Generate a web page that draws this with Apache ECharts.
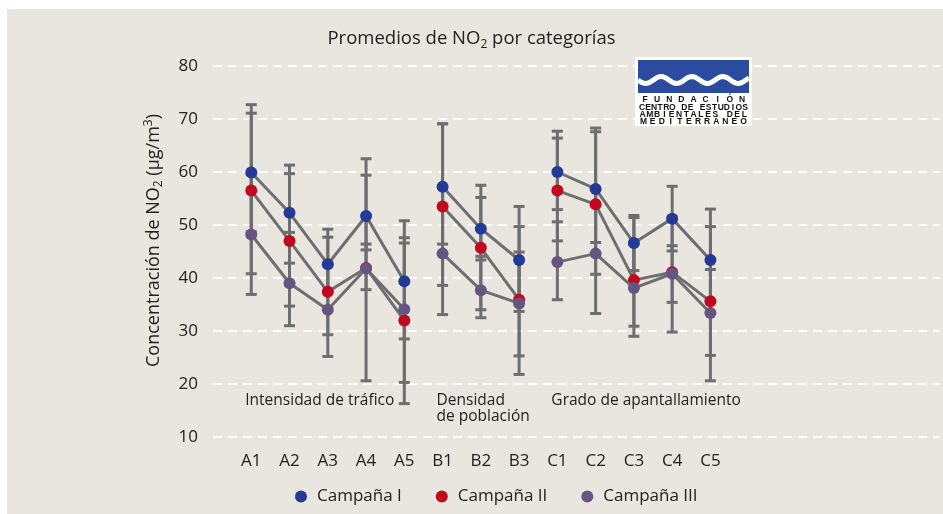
<!DOCTYPE html>
<html>
<head>
<meta charset="utf-8">
<script src="https://cdn.jsdelivr.net/npm/echarts@6/dist/echarts.min.js"></script>
<style>
  html, body { margin: 0; padding: 0; background: #ffffff; }
  #chart { width: 943px; height: 514px; }
</style>
</head>
<body>
<div id="chart"></div>
<script>
// Categories along the x axis and the three sampling campaigns
const categories = ['A1', 'A2', 'A3', 'A4', 'A5', 'B1', 'B2', 'B3', 'C1', 'C2', 'C3', 'C4', 'C5'];
const groupLabels = ['Intensidad de tráfico', 'Densidad\nde población', 'Grado de apantallamiento'];
const groupSizes = [5, 3, 5];
const seriesNames = ['Campaña I', 'Campaña II', 'Campaña III'];

// Mean NO2 concentration (µg/m3)
const meanI   = [59.9, 52.3, 42.6, 51.7, 39.4, 57.2, 49.3, 43.4, 60.0, 56.8, 46.6, 51.2, 43.4];
const meanII  = [56.5, 47.0, 37.4, 41.9, 32.0, 53.5, 45.7, 35.9, 56.5, 53.9, 39.6, 41.1, 35.6];
const meanIII = [48.2, 39.0, 34.0, 41.8, 34.1, 44.6, 37.7, 35.2, 43.0, 44.6, 38.1, 40.8, 33.4];

// Error bar ends (low / high)
const lowI    = [48.7, 42.8, 37.5, 45.3, 28.5, 46.4, 43.4, 33.7, 52.9, 46.7, 41.4, 45.1, 33.5];
const highI   = [71.1, 61.3, 47.7, 59.4, 50.8, 69.1, 55.2, 53.5, 67.7, 68.3, 51.8, 57.3, 53.0];
const lowII   = [40.8, 34.7, 29.3, 20.6, 16.3, 38.6, 34.0, 21.8, 47.0, 40.7, 29.0, 29.8, 20.6];
const highII  = [72.7, 59.7, 49.2, 62.5, 47.6, 69.1, 57.5, 49.7, 66.4, 67.6, 51.4, 51.6, 49.7];
const lowIII  = [36.9, 31.0, 25.2, 37.8, 20.3, 33.1, 32.5, 25.3, 35.9, 33.3, 30.9, 35.4, 25.4];
const highIII = [59.6, 48.6, 42.6, 46.4, 46.6, 57.0, 44.1, 44.9, 50.6, 56.7, 46.3, 46.1, 41.6];

// Value axis ticks
const yMin = 10, yMax = 80, yStep = 10;

const colors = ['#233a97', '#c1081f', '#655580'];
const gray = '#6e6e70';
const textColor = '#222222';
const fontFamily = '"Open Sans", "Noto Sans", sans-serif';

const means = [meanI, meanII, meanIII];
const lows = [lowI, lowII, lowIII];
const highs = [highI, highII, highIII];

// Line data broken between category groups
function lineData(values) {
  const out = [];
  let idx = 0;
  groupSizes.forEach(function (size, g) {
    for (let k = 0; k < size; k++, idx++) out.push([idx, values[idx]]);
    if (g < groupSizes.length - 1) out.push([idx - 0.5, '-']);
  });
  return out;
}

function errorData(lo, hi) {
  return lo.map(function (v, i) { return [i, v, hi[i]]; });
}

function renderError(params, api) {
  const x = api.value(0);
  const p1 = api.coord([x, api.value(1)]);
  const p2 = api.coord([x, api.value(2)]);
  const w = 5.5;
  const style = { stroke: gray, lineWidth: 3 };
  return {
    type: 'group',
    children: [
      { type: 'line', shape: { x1: p1[0], y1: p1[1], x2: p2[0], y2: p2[1] }, style: style },
      { type: 'line', shape: { x1: p1[0] - w, y1: p1[1], x2: p1[0] + w, y2: p1[1] }, style: style },
      { type: 'line', shape: { x1: p2[0] - w, y1: p2[1], x2: p2[0] + w, y2: p2[1] }, style: style }
    ]
  };
}

const series = [];
seriesNames.forEach(function (name, s) {
  series.push({
    type: 'custom',
    name: name + ' error',
    data: errorData(lows[s], highs[s]),
    encode: { x: 0, y: [1, 2] },
    renderItem: renderError,
    z: 1,
    silent: true
  });
});
seriesNames.forEach(function (name, s) {
  series.push({
    type: 'line',
    name: name,
    data: lineData(means[s]),
    symbol: 'circle',
    symbolSize: 12,
    showSymbol: true,
    connectNulls: false,
    lineStyle: { color: gray, width: 3 },
    itemStyle: { color: colors[s] },
    z: 3 + s
  });
});

// Foundation logo: white card, blue band with a white wave, lettering
function logo() {
  const els = [];
  const L = 635, T = 57, W = 117, H = 69;
  els.push({ type: 'rect', shape: { x: L, y: T, width: W, height: H }, style: { fill: '#ffffff' }, z: 50 });
  els.push({ type: 'rect', shape: { x: L + 3, y: T + 3, width: W - 6, height: 33 }, style: { fill: '#2b4b9e' }, z: 51 });
  const pts = [];
  for (let k = 0; k <= 60; k++) {
    const px = L + 3 + k * (W - 6) / 60;
    pts.push([px, T + 23 + 3.5 * Math.sin(k / 60 * Math.PI * 7.2)]);
  }
  els.push({ type: 'polyline', shape: { points: pts }, style: { stroke: '#ffffff', lineWidth: 5, fill: null }, z: 52 });
  const lines = ['FUNDACIÓN', 'CENTRO DE ESTUDIOS', 'AMBIENTALES DEL', 'MEDITERRÁNEO'];
  const ys = [T + 43, T + 50.5, T + 58, T + 65];
  lines.forEach(function (str, r) {
    const chars = str.split('');
    const x0 = L + 4, w = W - 8;
    chars.forEach(function (c, i) {
      els.push({
        type: 'text', z: 53,
        style: {
          text: c, x: x0 + (i + 0.5) * w / chars.length, y: ys[r],
          align: 'center', verticalAlign: 'middle',
          font: 'bold 8.5px "Liberation Sans", sans-serif', fill: '#111111'
        }
      });
    });
  });
  return els;
}

const chart = echarts.init(document.getElementById('chart'), null, { renderer: 'canvas' });

const option = {
  animation: false,
  backgroundColor: 'transparent',
  textStyle: { fontFamily: fontFamily },
  title: {
    text: 'Promedios de NO{sub|2} por categorías',
    left: 'center',
    top: 22,
    textStyle: {
      fontFamily: fontFamily, fontSize: 18.5, fontWeight: 'normal', color: textColor, lineHeight: 24,
      rich: {
        sub: { fontFamily: fontFamily, fontSize: 12, color: textColor, verticalAlign: 'bottom', lineHeight: 15 }
      }
    }
  },
  legend: {
    data: seriesNames,
    left: 290,
    top: 483,
    icon: 'circle',
    itemWidth: 22,
    itemHeight: 12,
    itemGap: 34,
    textStyle: { fontFamily: fontFamily, fontSize: 17, color: textColor }
  },
  grid: { left: 213, right: 1, top: 66, bottom: 77 },
  xAxis: {
    type: 'value',
    min: -1,
    max: 18,
    interval: 1,
    axisLine: { show: false },
    axisTick: { show: false },
    splitLine: { show: false },
    axisLabel: {
      margin: 16,
      fontFamily: fontFamily, fontSize: 17, color: textColor,
      formatter: function (v) { return categories[v] !== undefined ? categories[v] : ''; }
    }
  },
  yAxis: {
    type: 'value',
    min: yMin,
    max: yMax,
    interval: yStep,
    name: 'Concentración de NO{sub|2} (μg/m{sup|3})',
    nameLocation: 'middle',
    nameGap: 48,
    nameTextStyle: {
      fontFamily: fontFamily, fontSize: 18, color: textColor, lineHeight: 22,
      padding: [0, 0, 0, 22],
      rich: {
        sub: { fontFamily: fontFamily, fontSize: 12, color: textColor, verticalAlign: 'bottom', lineHeight: 14 },
        sup: { fontFamily: fontFamily, fontSize: 12, color: textColor, verticalAlign: 'top', lineHeight: 14 }
      }
    },
    axisLine: { show: false },
    axisTick: { show: false },
    axisLabel: { margin: 15, fontFamily: fontFamily, fontSize: 17, color: textColor },
    splitLine: { show: true, lineStyle: { color: '#ffffff', width: 2, type: [9, 6] } }
  },
  graphic: [
    { type: 'rect', shape: { x: 7, y: 9, width: 936, height: 505 }, style: { fill: '#e9e5df' }, z: -100 }
  ].concat(logo()),
  series: series
};

chart.setOption(option);

// Group captions beneath each block of categories
const captions = [];
let start = 0;
groupLabels.forEach(function (label, g) {
  const p = chart.convertToPixel({ gridIndex: 0 }, [start, 17]);
  captions.push({
    type: 'text', z: 10,
    style: {
      text: label, x: p[0] - 6, y: 393,
      align: 'left', verticalAlign: 'top', lineHeight: 16,
      font: '15.5px ' + fontFamily, fill: textColor
    }
  });
  start += groupSizes[g];
});
chart.setOption({ graphic: option.graphic.concat(captions) });
</script>
</body>
</html>
